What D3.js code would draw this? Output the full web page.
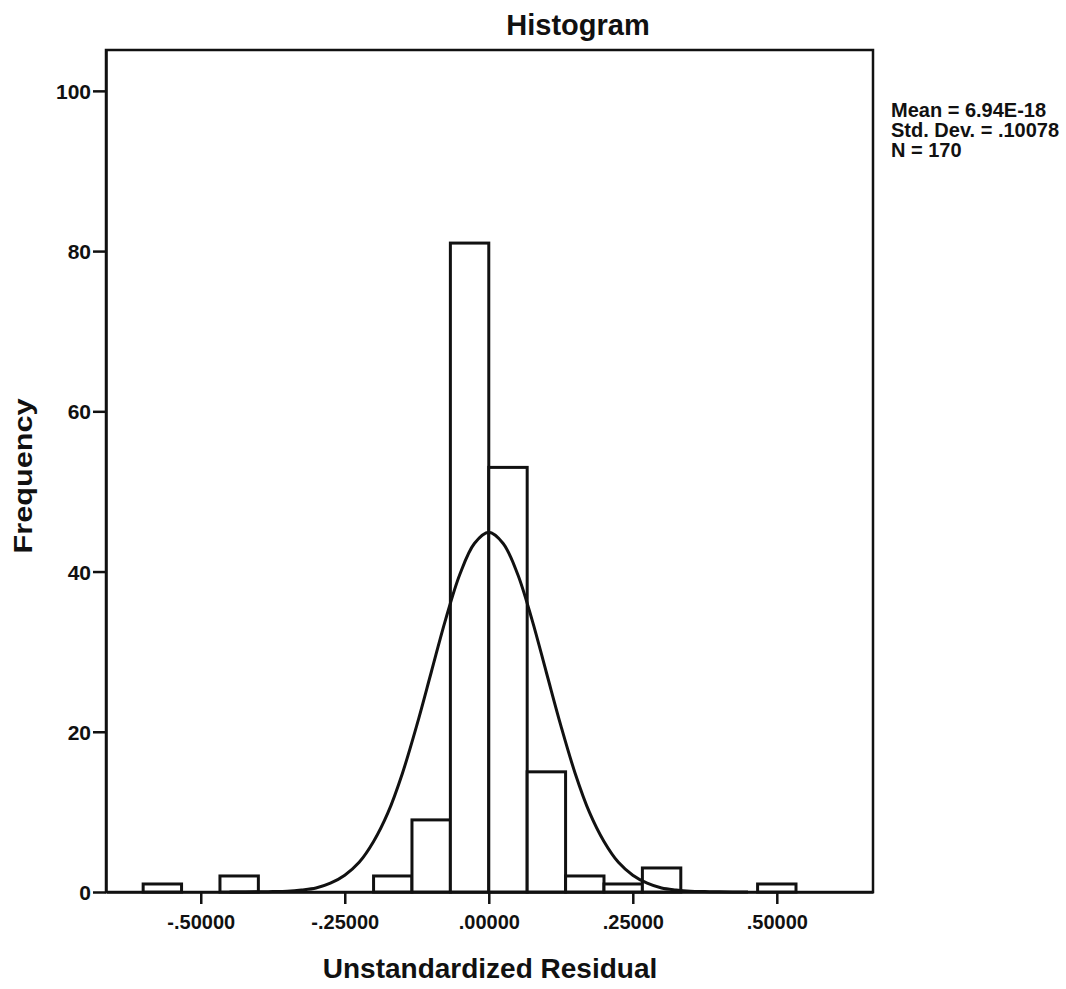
<!DOCTYPE html>
<html lang="en">
<head>
    <meta charset="UTF-8">
    <title> Histogram </title>
    <script type="text/javascript" src="https://cdn.jsdelivr.net/npm/d3@7/dist/d3.min.js"></script>
    <style type="text/css">
        body { margin: 0; background: #fff; }
        text { font-family: "Liberation Sans", Arial, sans-serif; fill: #111; }
    </style>
</head>
<body>
    <script type="text/javascript">
        //Bin edges (left edge of each bin, width 1/15) and counts
        var binStarts = [-9, -8, -7, -6, -5, -4, -3, -2, -1, 0, 1, 2, 3, 4, 5, 6, 7];
        var counts    = [ 1,  0,  2,  0,  0,  0,  2,  9, 81, 53, 15, 2, 1, 3, 0, 0, 1];
        var binWidth = 1 / 15;

        //Normal curve
        var curveX = [-0.45, -0.4, -0.375, -0.35, -0.325, -0.3, -0.275, -0.25, -0.225, -0.2, -0.175, -0.15, -0.125, -0.1, -0.075, -0.05, -0.025, 0,
                      0.025, 0.05, 0.075, 0.1, 0.125, 0.15, 0.175, 0.2, 0.225, 0.25, 0.275, 0.3, 0.325, 0.35, 0.375, 0.4, 0.45];
        var curveY = [0, 0.02, 0.05, 0.1, 0.25, 0.5, 1.1, 2.1, 3.7, 6.3, 9.9, 14.8, 20.8, 27.4, 34.0, 39.7, 43.5, 44.9,
                      43.5, 39.7, 34.0, 27.4, 20.8, 14.8, 9.9, 6.3, 3.7, 2.1, 1.1, 0.5, 0.25, 0.1, 0.05, 0.02, 0];

        var yTicks = [0, 20, 40, 60, 80, 100];
        var xTicks = [-0.5, -0.25, 0, 0.25, 0.5];
        var xTickLabels = ["-.50000", "-.25000", ".00000", ".25000", ".50000"];
        var statLines = ["Mean = 6.94E-18", "Std. Dev. = .10078", "N = 170"];

        var w = 1066;
        var h = 989;
        var pLeft = 106, pRight = 873, pTop = 50, pBottom = 892;

        var xScale = d3.scaleLinear()
            .domain([-0.6645, 0.6670])
            .range([pLeft, pRight]);

        var yScale = d3.scaleLinear()
            .domain([0, 105.1])
            .range([pBottom, pTop]);

        var svg = d3.select("body")
            .append("svg")
            .attr("width", w)
            .attr("height", h);

        //Frame
        svg.append("rect")
            .attr("x", pLeft)
            .attr("y", pTop)
            .attr("width", pRight - pLeft)
            .attr("height", pBottom - pTop)
            .attr("fill", "#fff")
            .attr("stroke", "#111")
            .attr("stroke-width", 2.5);

        //Bars
        var bins = binStarts.map(function(b, i) { return { x0: b * binWidth, x1: (b + 1) * binWidth, n: counts[i] }; })
            .filter(function(d) { return d.n > 0; });

        svg.selectAll("rect.bar")
            .data(bins)
            .enter()
            .append("rect")
            .attr("class", "bar")
            .attr("x", function(d) { return xScale(d.x0); })
            .attr("y", function(d) { return yScale(d.n); })
            .attr("width", function(d) { return xScale(d.x1) - xScale(d.x0); })
            .attr("height", function(d) { return yScale(0) - yScale(d.n); })
            .attr("fill", "#fff")
            .attr("stroke", "#111")
            .attr("stroke-width", 3);

        //Normal curve
        var line = d3.line()
            .x(function(d) { return xScale(d[0]); })
            .y(function(d) { return yScale(d[1]); })
            .curve(d3.curveCatmullRom);

        svg.append("path")
            .datum(curveX.map(function(x, i) { return [x, curveY[i]]; }))
            .attr("d", line)
            .attr("fill", "none")
            .attr("stroke", "#111")
            .attr("stroke-width", 3);

        //Axes
        var yAxis = d3.axisLeft(yScale)
            .tickValues(yTicks)
            .tickSize(13)
            .tickSizeOuter(0)
            .tickPadding(2)
            .tickFormat(d3.format("d"));

        var xAxis = d3.axisBottom(xScale)
            .tickValues(xTicks)
            .tickSize(12)
            .tickSizeOuter(0)
            .tickPadding(11)
            .tickFormat(function(d, i) { return xTickLabels[i]; });

        var gy = svg.append("g")
            .attr("transform", "translate(" + pLeft + ",0)")
            .call(yAxis);
        var gx = svg.append("g")
            .attr("transform", "translate(0," + pBottom + ")")
            .call(xAxis);

        [gx, gy].forEach(function(g) {
            g.select(".domain").attr("stroke", "#111").attr("stroke-width", 2.5);
            g.selectAll(".tick line").attr("stroke", "#111").attr("stroke-width", 2.5);
            g.selectAll(".tick text")
                .attr("fill", "#111")
                .attr("font-size", "20px")
                .attr("font-weight", "bold")
                .attr("font-family", "Liberation Sans, Arial, sans-serif");
        });
        gy.selectAll(".tick text").attr("dy", "0.36em").attr("font-size", "21px");

        //Title and axis labels
        svg.append("text")
            .text("Histogram")
            .attr("x", 578)
            .attr("y", 35)
            .attr("text-anchor", "middle")
            .attr("font-size", "29px")
            .attr("font-weight", "bold");

        svg.append("text")
            .text("Unstandardized Residual")
            .attr("x", 490)
            .attr("y", 978)
            .attr("text-anchor", "middle")
            .attr("font-size", "28px")
            .attr("font-weight", "bold");

        svg.append("text")
            .text("Frequency")
            .attr("transform", "translate(32,476) rotate(-90) scale(1.18,1)")
            .attr("text-anchor", "middle")
            .attr("font-size", "26px")
            .attr("font-weight", "bold");

        //Stats legend
        svg.selectAll("text.stat")
            .data(statLines)
            .enter()
            .append("text")
            .attr("class", "stat")
            .text(function(d) { return d; })
            .attr("x", 891)
            .attr("y", function(d, i) { return 117 + i * 20; })
            .attr("font-size", "20px")
            .attr("font-family", "Liberation Sans Narrow, Liberation Sans, Arial, sans-serif")
            .attr("font-weight", "bold");
    </script>
</body>
</html>
